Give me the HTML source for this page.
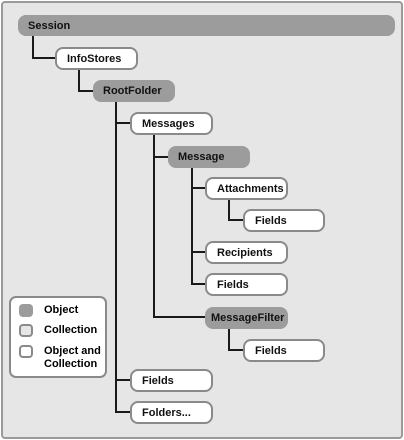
<!DOCTYPE html>
<html><head><style>
body{margin:0;width:404px;height:440px;background:#fff;position:relative;overflow:hidden;font-family:"Liberation Sans",sans-serif}
.frame{position:absolute;left:1px;top:1px;width:398px;height:434px;background:#e6e6e6;border:2px solid #9a9a9a;border-radius:4px}
.b{position:absolute;box-sizing:border-box;border-radius:8px;font-size:11px;font-weight:bold;color:#111;padding-left:10px;display:flex;align-items:center}
.g{background:#9c9c9c;border:none}
.w{background:#fff;border:2px solid #8a8a8a}
.l{position:absolute;background:#1a1a1a}
</style></head><body>
<div class="frame"></div>
<div class="l" style="left:32px;top:34px;width:2px;height:24px"></div>
<div class="l" style="left:32px;top:57px;width:24px;height:2px"></div>
<div class="l" style="left:78px;top:68px;width:2px;height:24px"></div>
<div class="l" style="left:78px;top:90px;width:16px;height:2px"></div>
<div class="l" style="left:115px;top:100px;width:2px;height:313px"></div>
<div class="l" style="left:115px;top:122px;width:16px;height:2px"></div>
<div class="l" style="left:115px;top:379px;width:16px;height:2px"></div>
<div class="l" style="left:115px;top:411px;width:16px;height:2px"></div>
<div class="l" style="left:153px;top:133px;width:2px;height:185px"></div>
<div class="l" style="left:153px;top:156px;width:16px;height:2px"></div>
<div class="l" style="left:153px;top:316px;width:53px;height:2px"></div>
<div class="l" style="left:191px;top:166px;width:2px;height:118px"></div>
<div class="l" style="left:191px;top:187px;width:15px;height:2px"></div>
<div class="l" style="left:191px;top:251px;width:15px;height:2px"></div>
<div class="l" style="left:191px;top:283px;width:15px;height:2px"></div>
<div class="l" style="left:228px;top:198px;width:2px;height:23px"></div>
<div class="l" style="left:228px;top:219px;width:16px;height:2px"></div>
<div class="l" style="left:228px;top:327px;width:2px;height:23px"></div>
<div class="l" style="left:228px;top:349px;width:16px;height:2px"></div>

<div class="b g" style="left:18px;top:15px;width:377px;height:21px">Session</div>
<div class="b w" style="left:55px;top:47px;width:83px;height:23px">InfoStores</div>
<div class="b g" style="left:93px;top:80px;width:82px;height:22px">RootFolder</div>
<div class="b w" style="left:130px;top:112px;width:83px;height:23px">Messages</div>
<div class="b g" style="left:168px;top:146px;width:82px;height:22px">Message</div>
<div class="b w" style="left:205px;top:177px;width:83px;height:23px">Attachments</div>
<div class="b w" style="left:243px;top:209px;width:82px;height:23px">Fields</div>
<div class="b w" style="left:205px;top:241px;width:83px;height:23px">Recipients</div>
<div class="b w" style="left:205px;top:273px;width:83px;height:23px">Fields</div>
<div class="b g" style="left:205px;top:307px;width:83px;height:22px;padding-left:6px">MessageFilter</div>
<div class="b w" style="left:243px;top:339px;width:82px;height:23px">Fields</div>
<div class="b w" style="left:130px;top:369px;width:83px;height:23px">Fields</div>
<div class="b w" style="left:130px;top:401px;width:83px;height:23px">Folders...</div>

<div style="position:absolute;left:9px;top:296px;width:98px;height:82px;box-sizing:border-box;background:#fff;border:2px solid #8a8a8a;border-radius:7px"></div>
<div style="position:absolute;left:19px;top:304px;width:14px;height:13px;background:#9c9c9c;border-radius:4px"></div>
<div style="position:absolute;left:19px;top:324px;width:14px;height:13px;box-sizing:border-box;background:#e6e6e6;border:2px solid #8a8a8a;border-radius:4px"></div>
<div style="position:absolute;left:19px;top:345px;width:14px;height:13px;box-sizing:border-box;background:#fff;border:2px solid #8a8a8a;border-radius:4px"></div>
<div style="position:absolute;left:44px;top:304px;font-size:11px;font-weight:bold;line-height:13px">Object</div>
<div style="position:absolute;left:44px;top:324px;font-size:11px;font-weight:bold;line-height:13px">Collection</div>
<div style="position:absolute;left:44px;top:345px;font-size:11px;font-weight:bold;line-height:13px">Object and<br>Collection</div>
</body></html>
